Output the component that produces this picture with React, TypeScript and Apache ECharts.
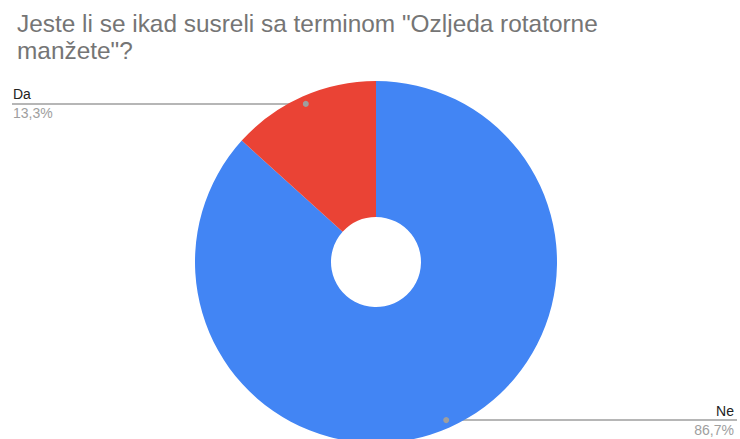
import React, { useEffect, useRef } from "react";
import * as echarts from "echarts";

const categories = ["Ne", "Da"];
const values = [86.7, 13.3];
const colors = ["#4285F4", "#EA4335"];
const titleText = 'Jeste li se ikad susreli sa terminom "Ozljeda rotatorne\nmanžete"?';

const CX = 376;
const CY = 262;
const R_IN = 45;
const R_OUT = 181;
const R_DOT = 173;
const LEFT_X = 12;
const RIGHT_X = 737;

export default function App() {
  const ref = useRef<HTMLDivElement>(null);
  useEffect(() => {
    document.body.style.margin = "0";
    const chart = echarts.init(ref.current!, null, { renderer: "svg" });
    const total = values.reduce((a, b) => a + b, 0);
    const midAngle = (i: number) => {
      let acc = 0;
      for (let k = 0; k < i; k++) acc += values[k];
      const frac = (acc + values[i] / 2) / total;
      return Math.PI / 2 - frac * Math.PI * 2;
    };
    const dotPos = (i: number) => {
      const a = midAngle(i);
      return [CX + R_DOT * Math.cos(a), CY - R_DOT * Math.sin(a)];
    };
    chart.setOption({
      animation: false,
      title: {
        text: titleText,
        left: 12,
        top: 5,
        textStyle: {
          fontFamily: "Liberation Sans, Arial, sans-serif",
          fontSize: 24.4,
          fontWeight: "normal",
          color: "#757575",
          lineHeight: 27,
        },
      },
      series: [
        {
          type: "pie",
          center: [CX, CY],
          radius: [R_IN, R_OUT],
          startAngle: 90,
          clockwise: true,
          avoidLabelOverlap: false,
          silent: true,
          data: categories.map((c, i) => ({
            name: c,
            value: values[i],
            itemStyle: { color: colors[i] },
          })),
          label: {
            show: true,
            position: "outer",
            formatter: (p: any) =>
              `{n|${p.name}}\n{p|${p.percent.toFixed(1).replace(".", ",")}%}`,
            rich: {
              n: {
                fontFamily: "Liberation Sans, Arial, sans-serif",
                fontSize: 14,
                color: "#222222",
                lineHeight: 19,
              },
              p: {
                fontFamily: "Liberation Sans, Arial, sans-serif",
                fontSize: 14,
                color: "#9e9e9e",
                lineHeight: 19,
              },
            },
          },
          labelLine: {
            show: true,
            lineStyle: { color: "#9e9e9e", width: 1.5 },
          },
          labelLayout: (params: any) => {
            const i = params.dataIndex;
            const [dx, dy] = dotPos(i);
            const isLeft = dx < CX;
            const endX = isLeft ? LEFT_X : RIGHT_X;
            return {
              x: isLeft ? LEFT_X + 1 : RIGHT_X - 3,
              y: dy,
              align: isLeft ? "left" : "right",
              verticalAlign: "middle",
              labelLinePoints: [
                [dx, dy],
                [dx, dy],
                [endX, dy],
              ],
            };
          },
        },
        {
          type: "custom",
          coordinateSystem: "none",
          silent: true,
          z: 10,
          data: values.map((_, i) => [i]),
          renderItem: (_params: any, api: any) => {
            const i = api.value(0);
            const [x, y] = dotPos(i);
            return {
              type: "circle",
              shape: { cx: x, cy: y, r: 3 },
              style: { fill: "#9e9e9e" },
              z2: 100,
            };
          },
        },
      ],
    });
    return () => chart.dispose();
  }, []);
  return (
    <div
      ref={ref}
      style={{ position: "fixed", left: 0, top: 0, width: 740, height: 439, background: "#fff" }}
    />
  );
}
